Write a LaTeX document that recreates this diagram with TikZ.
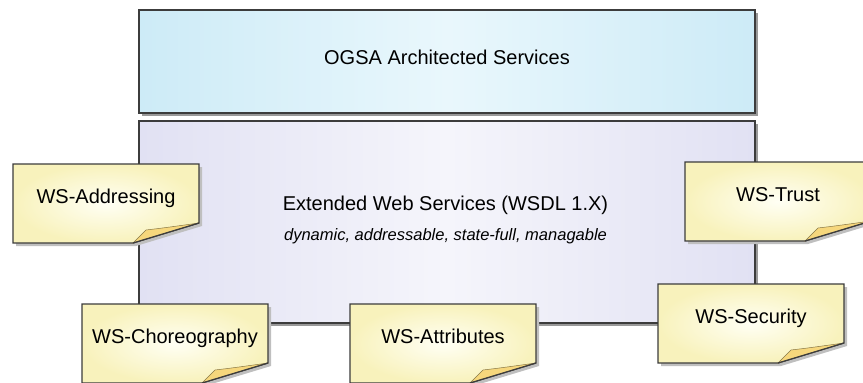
\documentclass[tikz,border=0pt]{standalone}
\usepackage{fontspec}
\setmainfont{Liberation Sans}
\usepackage{tikz}
\usetikzlibrary{positioning,calc,shadows}
\definecolor{edgeGray}{HTML}{3C3C3C}
\definecolor{skyBlue}{HTML}{CDEBF7}
\definecolor{skyLight}{HTML}{E9F7FC}
\definecolor{lilac}{HTML}{E1E1F3}
\definecolor{lilacLight}{HTML}{F5F5FB}
\definecolor{paperYellow}{HTML}{F8F2BC}
\definecolor{paperLight}{HTML}{FFFFF4}
\definecolor{earYellow}{HTML}{F6D77C}

\begin{document}
\begin{tikzpicture}[
    x=1pt,y=-1pt,
    every node/.style={font=\fontsize{20}{24}\selectfont},
    layer/.style={rectangle,draw=edgeGray,line width=1.2pt,minimum width=616pt,inner sep=0pt,
                  drop shadow={shadow xshift=2.5pt,shadow yshift=-2.5pt,fill=black!40,opacity=1}},
    props/.style={font=\fontsize{16.5}{20}\selectfont\itshape},
    sheet/.style={draw=edgeGray,line width=1.2pt,inner color=paperLight,outer color=paperYellow},
    sheetshadow/.style={fill=black!25},
    ear/.style={fill=earYellow,draw=earYellow!55!black,line width=0.5pt},
    earedge/.style={draw=edgeGray,line width=1.2pt}
  ]
  \useasboundingbox (0,0) rectangle (863,383);
  \clip (0,0) rectangle (863,383);
  %% Upper layer: architected services
  \node[layer,minimum height=103pt,left color=skyBlue,right color=skyBlue,middle color=skyLight]
        (ogsa) at (447,61.5) {};
  \node[anchor=base] (ogsatitle) at ($(ogsa.center)+(0,2.5)$) {OGSA Architected Services};
  %% Lower layer: extended web services
  \node[layer,minimum height=202pt,left color=lilac,right color=lilac,middle color=lilacLight]
        (ews) at (447,222) {};
  \node[anchor=base] (ewstitle) at ($(ews.center)+(-1.5,-12)$) {Extended Web Services (WSDL 1.X)};
  \node[props,anchor=base] (ewsprops) at ($(ewstitle.base)+(0,30)$)
        {dynamic, addressable, state-full, managable};
  %% Specification notes with a turned-up corner
  \foreach \nm/\nx/\ny/\txt in {addressing/13/164/WS-Addressing,
                               trust/685/162/WS-Trust,
                               choreography/82/304/WS-Choreography,
                               attributes/350/304/WS-Attributes,
                               security/658/284/WS-Security}{
    \begin{scope}[shift={(\nx,\ny)}]
      \fill[sheetshadow] (3,3) -- (189,3) -- (189,62) -- (123,82) -- (3,82) -- cycle;
      \shadedraw[sheet] (0,0) -- (186,0) -- (186,59) -- (120,79) -- (0,79) -- cycle;
      \filldraw[ear] (120,79) -- (133,66) .. controls (150,64) .. (186,59) -- cycle;
      \draw[earedge] (186,59) -- (120,79);
      \node[anchor=base] (\nm) at (93,39.5) {\txt};
    \end{scope}
  }
\end{tikzpicture}
\end{document}
